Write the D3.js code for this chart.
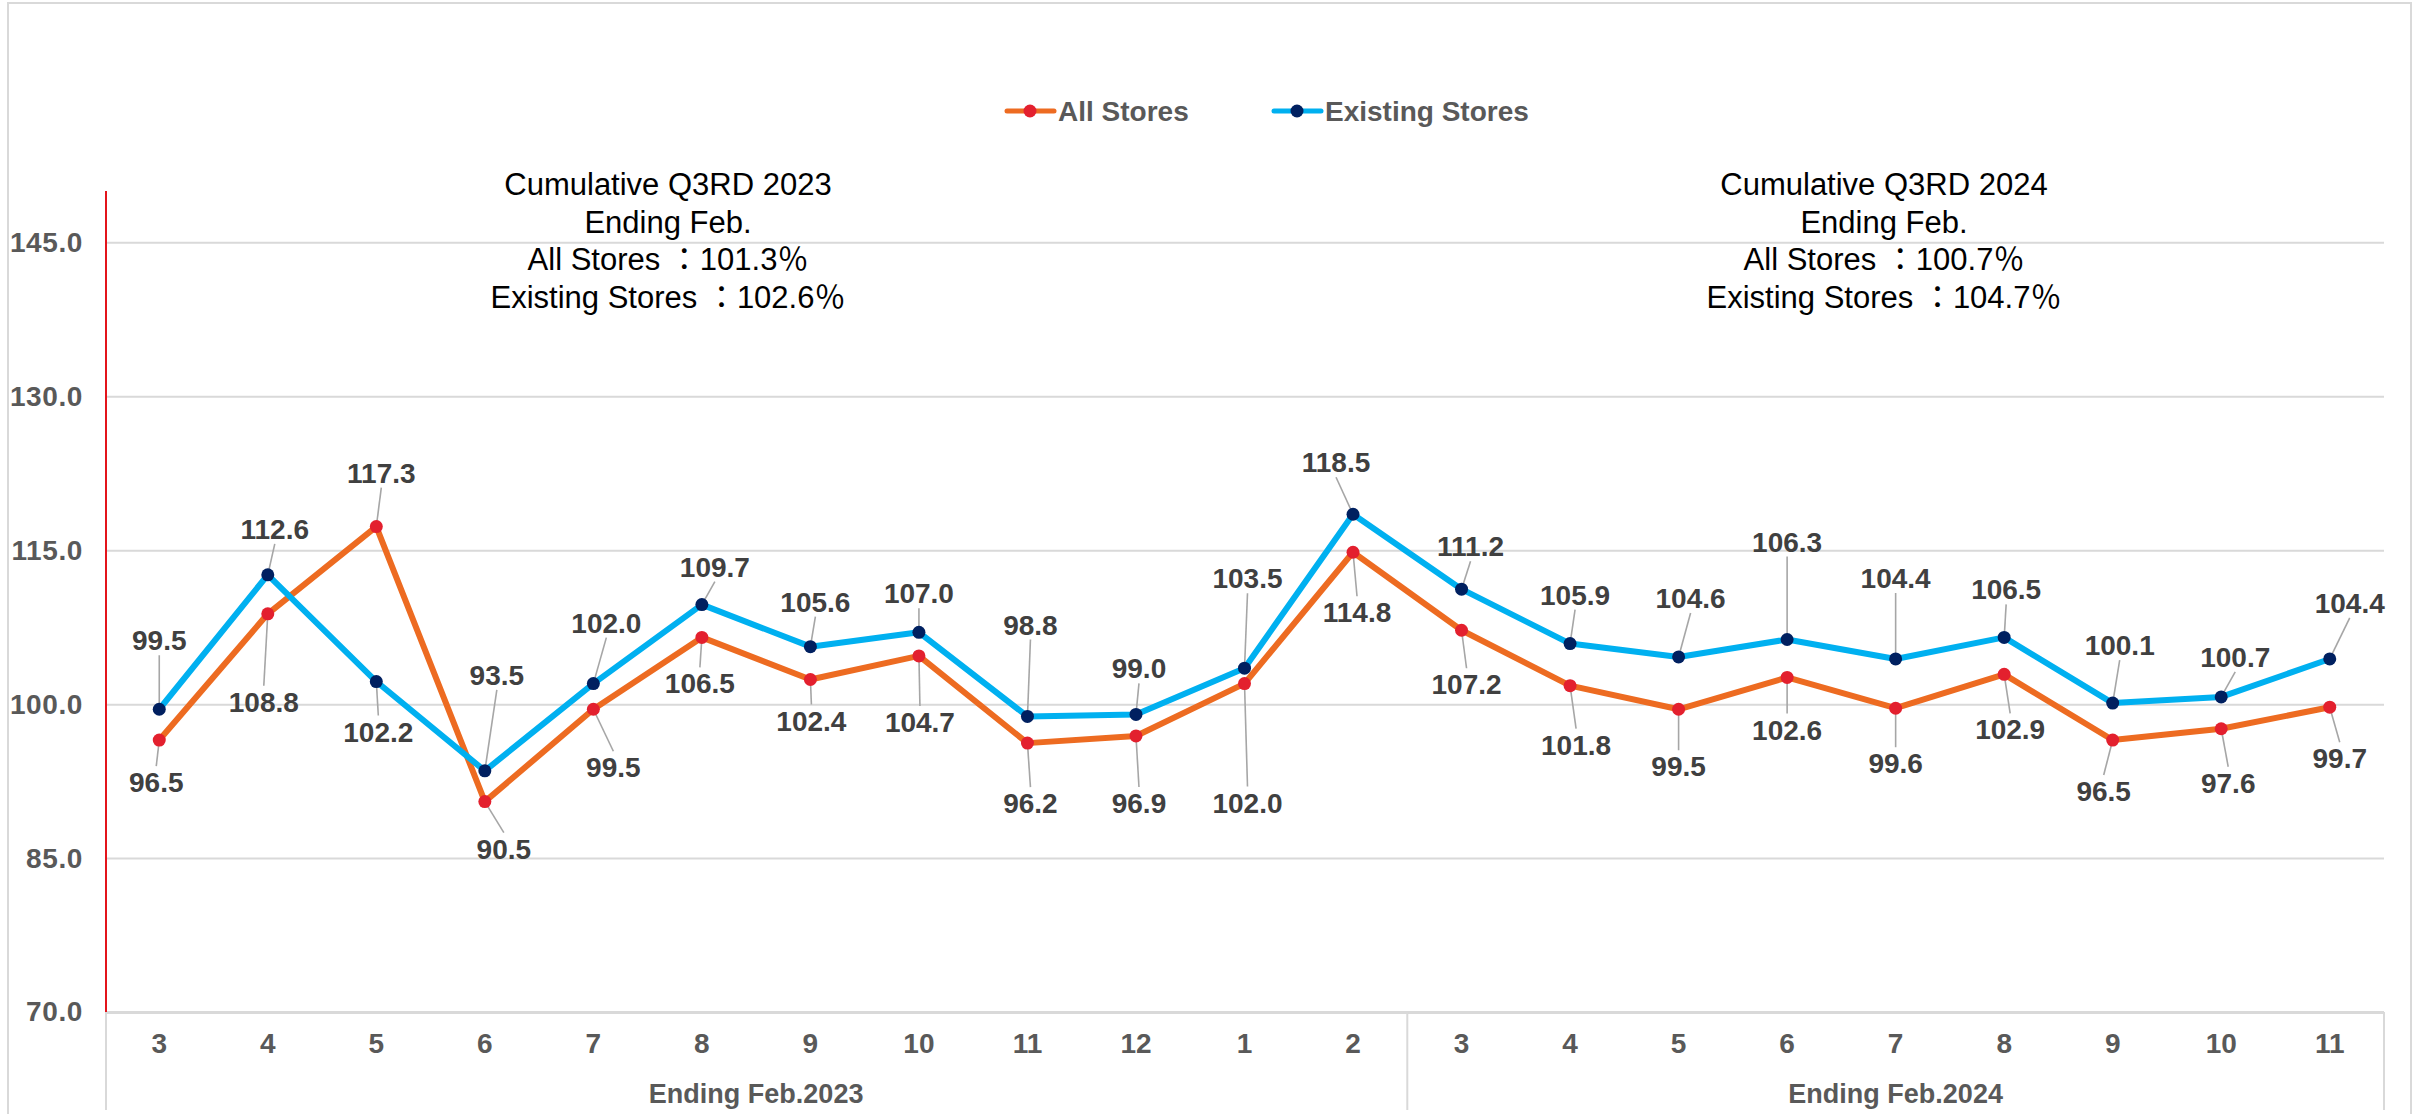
<!DOCTYPE html>
<html>
<head>
<meta charset="utf-8">
<script src="https://cdn.jsdelivr.net/npm/d3@7/dist/d3.min.js"></script>
<style>
  html, body { margin: 0; padding: 0; background: #ffffff; }
  svg { display: block; }
  text { font-family: "Liberation Sans", Arial, "Noto Sans CJK JP", sans-serif; }
</style>
</head>
<body>
<svg id="chart" width="2430" height="1114"></svg>
<script>
// ---------------- data ----------------
const months = ["3","4","5","6","7","8","9","10","11","12","1","2","3","4","5","6","7","8","9","10","11"];
const groupLabels = ["Ending Feb.2023", "Ending Feb.2024"];
const groupSizes = [12, 9];
const seriesNames = ["All Stores", "Existing Stores"];
const allStores = [96.5,108.8,117.3,90.5,99.5,106.5,102.4,104.7,96.2,96.9,102.0,114.8,107.2,101.8,99.5,102.6,99.6,102.9,96.5,97.6,99.7];
const existingStores = [99.5,112.6,102.2,93.5,102.0,109.7,105.6,107.0,98.8,99.0,103.5,118.5,111.2,105.9,104.6,106.3,104.4,106.5,100.1,100.7,104.4];
const yTicks = [70, 85, 100, 115, 130, 145];
const noteLines2023 = ["Cumulative Q3RD 2023", "Ending Feb.", "All Stores \uFF1A101.3\uFF05", "Existing Stores \uFF1A102.6\uFF05"];
const noteLines2024 = ["Cumulative Q3RD 2024", "Ending Feb.", "All Stores \uFF1A100.7\uFF05", "Existing Stores \uFF1A104.7\uFF05"];

// label offsets (pixels, relative to each point) – layout only
const allLabelOffsets = [[-3,42],[-4,88],[5,-54],[19,47],[20,58],[-2,46],[1,41],[1,66],[3,60],[3,67],[3,119],[4,60],[5,54],[6,59],[0,57],[0,52],[0,55],[6,55],[-9,51],[7,54],[10,51]];
const existLabelOffsets = [[0,-69],[7,-46],[2,50],[12,-96],[13,-61],[13,-38],[5,-45],[0,-39],[3,-92],[3,-46],[3,-90],[-17,-52],[9,-43],[5,-49],[12,-59],[0,-98],[0,-81],[2,-48],[7,-58],[14,-40],[20,-56]];

// ---------------- layout ----------------
const plot = { left: 105, right: 2384, top: 191, bottom: 1012 };
const colors = {
  allLine: "#ED6B21", allMarker: "#E3202E",
  existLine: "#00B0F0", existMarker: "#002060",
  grid: "#D9D9D9", axisText: "#595959", labelText: "#404040", leader: "#A6A6A6", yAxis: "#E3141B"
};

const svg = d3.select("#chart");

// outer border
svg.append("rect").attr("x", 8).attr("y", 3).attr("width", 2403).attr("height", 1130)
  .attr("fill", "none").attr("stroke", "#D9D9D9").attr("stroke-width", 2);

const idx = d3.range(months.length);
const x = d3.scaleBand().domain(idx).range([plot.left, plot.right]).paddingInner(0).paddingOuter(0);
const y = d3.scaleLinear().domain([70, 150]).range([plot.bottom, plot.top]);
const cx = i => x(i) + x.bandwidth() / 2;

// gridlines + y labels
const yAxis = d3.axisLeft(y).tickValues(yTicks).tickSize(-(plot.right - plot.left)).tickPadding(22)
  .tickFormat(d3.format(".1f"));
const gy = svg.append("g").attr("transform", `translate(${plot.left},0)`).call(yAxis);
gy.select(".domain").remove();
gy.selectAll(".tick line").attr("stroke", colors.grid).attr("stroke-width", d => d === 70 ? 3 : 2);
gy.selectAll(".tick text").attr("fill", colors.axisText).attr("font-size", 28).attr("font-weight", "bold")
  .attr("letter-spacing", 0.6).attr("font-family", "'Liberation Sans', Arial, sans-serif");

// red y axis line
svg.append("line").attr("x1", plot.left + 1).attr("x2", plot.left + 1)
  .attr("y1", y(150)).attr("y2", y(70)).attr("stroke", colors.yAxis).attr("stroke-width", 2);

// x axis labels
const xAxis = d3.axisBottom(x).tickSize(0).tickPadding(21).tickFormat(i => months[i]);
const gx = svg.append("g").attr("transform", `translate(0,${plot.bottom})`).call(xAxis);
gx.select(".domain").remove();
gx.selectAll(".tick text").attr("fill", colors.axisText).attr("font-size", 28).attr("font-weight", "bold")
  .attr("font-family", "'Liberation Sans', Arial, sans-serif");

// group separators and group labels
let start = 0;
const bounds = [0];
groupSizes.forEach(n => { start += n; bounds.push(start); });
bounds.forEach(b => {
  const xx = b < months.length ? x(b) : plot.right;
  svg.append("line").attr("x1", xx + (b === 0 ? 1 : 0)).attr("x2", xx + (b === 0 ? 1 : 0))
    .attr("y1", plot.bottom).attr("y2", 1110).attr("stroke", colors.grid).attr("stroke-width", 2);
});
groupLabels.forEach((g, k) => {
  const x0 = x(bounds[k]);
  const x1 = bounds[k + 1] < months.length ? x(bounds[k + 1]) : plot.right;
  svg.append("text").attr("x", (x0 + x1) / 2).attr("y", 1103).attr("text-anchor", "middle")
    .attr("fill", colors.axisText).attr("font-size", 27).attr("font-weight", "bold").text(g);
});

// lines
const line = d3.line().x((d, i) => cx(i)).y(d => y(d));
svg.append("path").datum(allStores).attr("d", line).attr("fill", "none")
  .attr("stroke", colors.allLine).attr("stroke-width", 6).attr("stroke-linejoin", "round");
svg.append("path").datum(existingStores).attr("d", line).attr("fill", "none")
  .attr("stroke", colors.existLine).attr("stroke-width", 6).attr("stroke-linejoin", "round");

// data labels with leader lines
function drawLabels(values, offsets, markerColor) {
  const g = svg.append("g");
  values.forEach((v, i) => {
    const px = cx(i), py = y(v);
    const lx = px + offsets[i][0], ly = py + offsets[i][1];
    const above = ly < py;
    const ey = above ? ly + 15 : ly - 16;
    if (Math.abs(ey - py) > 8) {
      g.append("line").attr("x1", lx).attr("y1", ey).attr("x2", px).attr("y2", py)
        .attr("stroke", colors.leader).attr("stroke-width", 1.6);
    }
    g.append("text").attr("x", lx).attr("y", ly).attr("dy", "0.36em").attr("text-anchor", "middle")
      .attr("fill", colors.labelText).attr("font-size", 28).attr("font-weight", "bold")
      .text(d3.format(".1f")(v));
  });
  g.selectAll("circle.m").data(values).enter().append("circle")
    .attr("cx", (d, i) => cx(i)).attr("cy", d => y(d)).attr("r", 6.5).attr("fill", markerColor);
}
drawLabels(allStores, allLabelOffsets, colors.allMarker);
drawLabels(existingStores, existLabelOffsets, colors.existMarker);

// legend
const legendItems = [
  { name: seriesNames[0], line: colors.allLine, marker: colors.allMarker, x: 1007 },
  { name: seriesNames[1], line: colors.existLine, marker: colors.existMarker, x: 1274 }
];
const lg = svg.append("g");
legendItems.forEach(it => {
  lg.append("line").attr("x1", it.x).attr("x2", it.x + 47).attr("y1", 111).attr("y2", 111)
    .attr("stroke", it.line).attr("stroke-width", 5).attr("stroke-linecap", "round");
  lg.append("circle").attr("cx", it.x + 23).attr("cy", 111).attr("r", 6.5).attr("fill", it.marker);
  lg.append("text").attr("x", it.x + 51).attr("y", 111).attr("dy", "0.36em")
    .attr("fill", colors.axisText).attr("font-size", 28).attr("font-weight", "bold").text(it.name);
});

// annotations: one text per line; full-width glyphs fall back to the CJK font
function note(lines, centerX) {
  lines.forEach((l, k) => {
    svg.append("text").attr("x", centerX).attr("y", 195 + k * 37.7)
      .attr("text-anchor", "middle").attr("fill", "#000").attr("font-size", 31)
      .attr("font-family", "'Liberation Sans', 'Noto Sans CJK JP', sans-serif")
      .text(l);
  });
}
note(noteLines2023, 668);
note(noteLines2024, 1884);
</script>
</body>
</html>
